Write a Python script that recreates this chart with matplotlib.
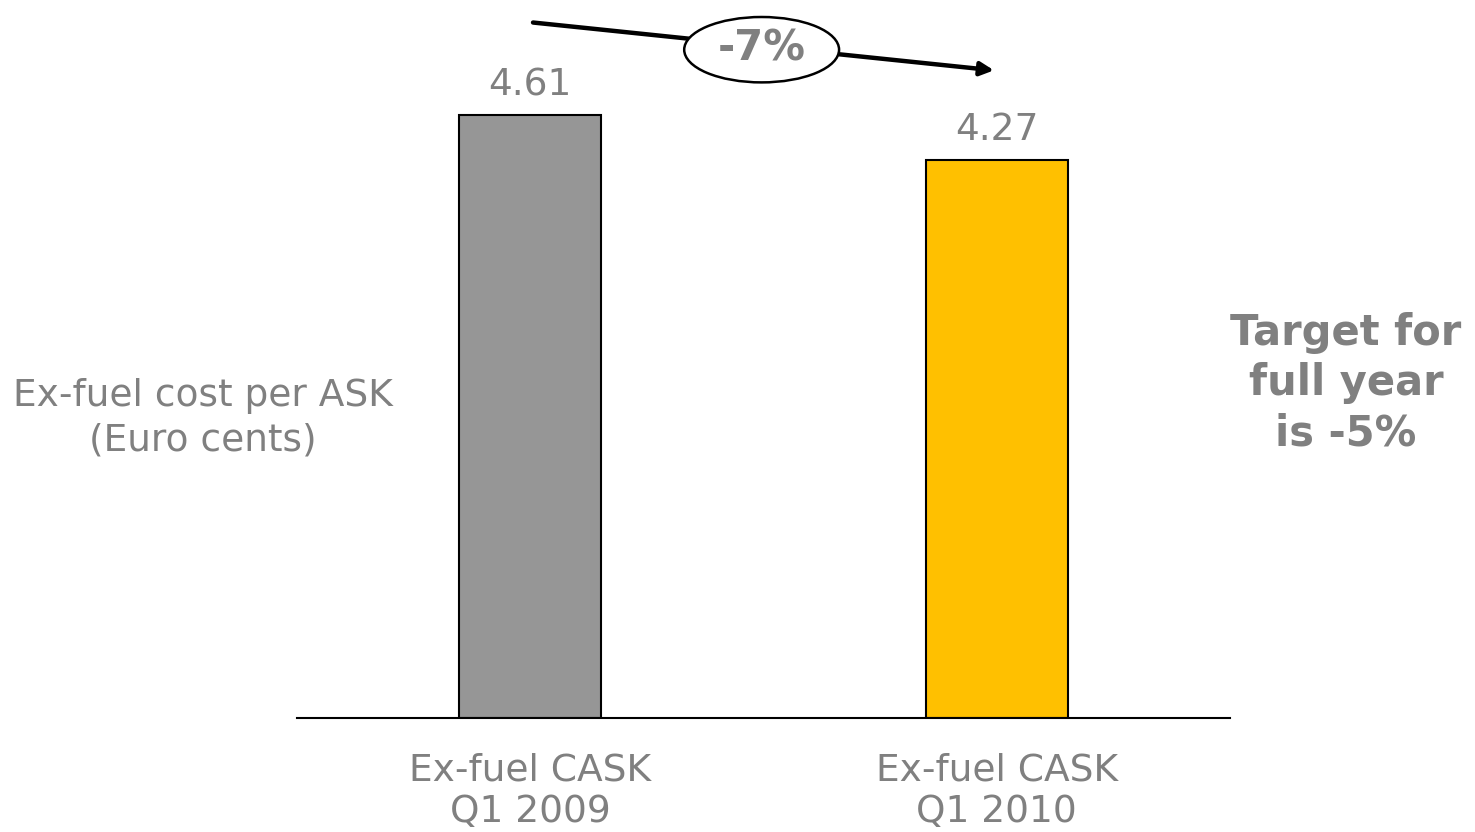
import matplotlib
matplotlib.use("Agg")
import matplotlib.pyplot as plt
from matplotlib.patches import Ellipse

categories = ["Ex-fuel CASK\nQ1 2009", "Ex-fuel CASK\nQ1 2010"]
values = [4.61, 4.27]
bar_colors = ["#969696", "#FFC000"]
change_label = "-7%"
ylabel = "Ex-fuel cost per ASK\n(Euro cents)"
side_note = "Target for\nfull year\nis -5%"

GREY = "#808080"
plt.rcParams["font.family"] = ["DejaVu Sans"]

fig = plt.figure(figsize=(14.75, 8.32), dpi=100)
ax = fig.add_axes([297 / 1475, (832 - 718) / 832, 933 / 1475, 718 / 832])
x = list(range(len(values)))
ax.bar(x, values, width=0.305, color=bar_colors, edgecolor="black", linewidth=1.5, zorder=2)
ax.set_xlim(-0.5, 1.5)
ax.set_ylim(0, 5.49)
for s in ["top", "right", "left"]:
    ax.spines[s].set_visible(False)
ax.spines["bottom"].set_linewidth(1.5)
ax.set_yticks([])
ax.set_xticks([])

for xi, v in zip(x, values):
    ax.text(xi, v + 0.09, f"{v:.2f}", ha="center", va="bottom", fontsize=27, color=GREY)
for xi, c in zip(x, categories):
    ax.text(xi, -0.56, c, ha="center", va="center", fontsize=27, color=GREY,
            linespacing=1.2, clip_on=False)

# change arrow from bar 1 to bar 2
ax.annotate("", xy=(1.0, 4.95), xytext=(0.0, 5.32),
            arrowprops=dict(arrowstyle="-|>", color="black", lw=3.2, mutation_scale=20),
            annotation_clip=False)
ax.add_patch(Ellipse((0.496, 5.11), 0.332, 0.5, facecolor="white", edgecolor="black",
                     lw=1.8, zorder=5, clip_on=False))
ax.text(0.496, 5.12, change_label, ha="center", va="center", fontsize=30, color=GREY,
        fontweight="bold", zorder=6, clip_on=False)

fig.text(203 / 1475, 1 - 418 / 832, ylabel, ha="center", va="center", fontsize=27,
         color=GREY, linespacing=1.3)
fig.text(1346 / 1475, 1 - 383 / 832, side_note, ha="center", va="center", fontsize=30,
         color=GREY, fontweight="bold", linespacing=1.25)

fig.savefig("out.png", dpi=100)
